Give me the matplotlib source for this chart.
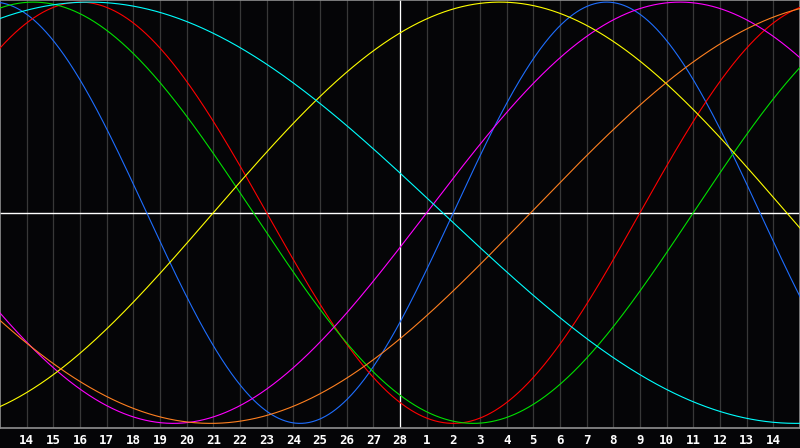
import numpy as np
import matplotlib
matplotlib.use('Agg')
import matplotlib.pyplot as plt

# day labels along the bottom (one per grid line)
day_labels = [str(d) for d in range(14, 29)] + [str(d) for d in range(1, 15)]

# cycles: period in days, day (from left edge) of upward zero crossing
periods = [23, 28, 33, 38, 43, 48, 53]
rise_day = [17.0, 24.0, 26.0, 16.0, 8.0, 19.9, -9.9]
colors = ['#1e6eff', '#ff0000', '#00e000', '#ff00ff', '#ffff00', '#ff8020', '#00ffff']

bg = '#050507'
ndays = 30

fig = plt.figure(figsize=(8, 4.48), dpi=100, facecolor=bg)
ax = fig.add_axes([0, 20/448, 1, 428/448])
ax.set_facecolor(bg)

# day grid
for i in range(1, ndays):
    ax.axvline(i, color='#383838', lw=0.9, zorder=1)
ax.axvline(15, color='white', lw=0.9, zorder=2)
ax.axhline(0, color='white', lw=1.0, zorder=2)

t = np.linspace(0, ndays, 1200)
for P, t0, c in zip(periods, rise_day, colors):
    ax.plot(t, np.sin(2*np.pi*(t - t0)/P), color=c, lw=0.8, zorder=3)

ax.set_xlim(0, ndays)
ax.set_ylim(-1.022, 1.01)
ax.set_xticks(range(1, ndays))
ax.set_xticklabels(day_labels, color='white', fontsize=9, fontweight='bold',
                   family='DejaVu Sans Mono')
ax.set_yticks([])
ax.tick_params(axis='x', length=0, pad=4)
for s in ax.spines.values():
    s.set_color('#909090')
    s.set_linewidth(1.2)

fig.savefig('out.png', dpi=100, facecolor=bg)
